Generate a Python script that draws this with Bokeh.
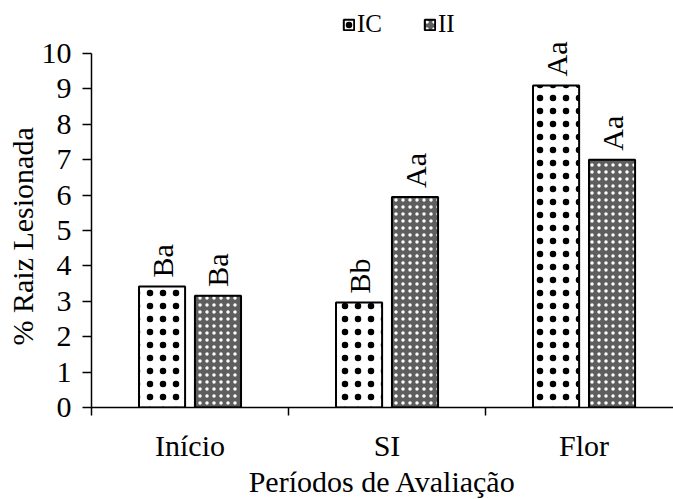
import numpy as np
from bokeh.plotting import figure
from bokeh.models import (ColumnDataSource, Range1d, FixedTicker, Legend,
                          LegendItem, Title)
from bokeh.core.properties import value
from bokeh.embed import file_html
from bokeh.resources import INLINE

# Evaluation periods and % of injured roots per treatment
periods = ["Início", "SI", "Flor"]
ic_values = [3.42, 2.97, 9.10]
ii_values = [3.16, 5.95, 7.00]
ic_letters = ["Ba", "Bb", "Aa"]
ii_letters = ["Ba", "Aa", "Aa"]
y_ticks = list(range(0, 11))

FONT = "Liberation Serif"
centers = np.arange(len(periods)) + 0.5
offset = 0.142
bar_w = 0.234

src_ic = ColumnDataSource(dict(x=centers - offset, top=ic_values, lab=ic_letters))
src_ii = ColumnDataSource(dict(x=centers + offset, top=ii_values, lab=ii_letters))

# headroom above 10 holds the legend and the letters of the tallest bar
p = figure(width=673, height=499, output_backend="svg", toolbar_location=None,
           x_range=Range1d(0, 2.954), y_range=Range1d(0, 11.5),
           min_border_left=91, min_border_right=0, min_border_top=0,
           min_border_bottom=92)
p.outline_line_color = None
p.xgrid.visible = False
p.ygrid.visible = False

r_ic = p.vbar(x="x", top="top", width=bar_w, source=src_ic,
              fill_color="white", line_color="black", line_width=2,
              hatch_pattern="dot", hatch_scale=13, hatch_weight=1.6,
              hatch_color="black")
r_ii = p.vbar(x="x", top="top", width=bar_w, source=src_ii,
              fill_color="#5e5e5e", line_color="black", line_width=2,
              hatch_pattern="dot", hatch_scale=7, hatch_weight=2,
              hatch_color="white")

# significance letters above each bar
for src in (src_ic, src_ii):
    p.text(x="x", y="top", text="lab", source=src, angle=np.pi / 2,
           text_align="left", text_baseline="middle", y_offset=-9,
           text_font=value(FONT), text_font_size="30px", text_color="black")

# y axis, drawn from 0 to 10 only
ya = p.yaxis[0]
ya.bounds = (0, 10)
ya.ticker = FixedTicker(ticks=y_ticks)
ya.major_tick_out = 9
ya.major_tick_in = 0
ya.minor_tick_line_color = None
ya.axis_line_width = 1.5
ya.major_tick_line_width = 1.5
ya.major_label_text_font = FONT
ya.major_label_text_font_size = "30px"
ya.major_label_text_color = "black"
ya.major_label_standoff = 11

# y title placed along the 0-10 span
p.add_layout(Title(text="% Raiz Lesionada", align="left", offset=62,
                   text_font=FONT, text_font_size="30px",
                   text_font_style="normal", text_color="black",
                   standoff=0), "left")

# x axis: period names centred, group boundaries as minor ticks
xa = p.xaxis[0]
xa.ticker = FixedTicker(ticks=list(centers), minor_ticks=[0, 1, 2, 3])
xa.major_label_overrides = {float(c): n for c, n in zip(centers, periods)}
xa.major_tick_line_color = None
xa.major_tick_out = 0
xa.major_tick_in = 0
xa.minor_tick_out = 8
xa.minor_tick_in = 0
xa.minor_tick_line_width = 1.5
xa.axis_line_width = 1.5
xa.major_label_text_font = FONT
xa.major_label_text_font_size = "30px"
xa.major_label_text_color = "black"
xa.major_label_standoff = 13

p.add_layout(Title(text="Períodos de Avaliação", align="center", offset=22,
                   text_font=FONT, text_font_size="30px",
                   text_font_style="normal", text_color="black",
                   vertical_align="top", standoff=0), "below")

legend = Legend(items=[LegendItem(label="IC", renderers=[r_ic]),
                       LegendItem(label="II", renderers=[r_ii])],
                orientation="horizontal", location=(251, 369),
                border_line_color=None, background_fill_alpha=0,
                label_text_font=FONT, label_text_font_size="25px",
                label_text_color="black",
                glyph_width=13, glyph_height=13, spacing=41,
                label_standoff=2, padding=0, margin=0)
p.add_layout(legend, "center")

open("out.html", "w").write(file_html(p, INLINE))
